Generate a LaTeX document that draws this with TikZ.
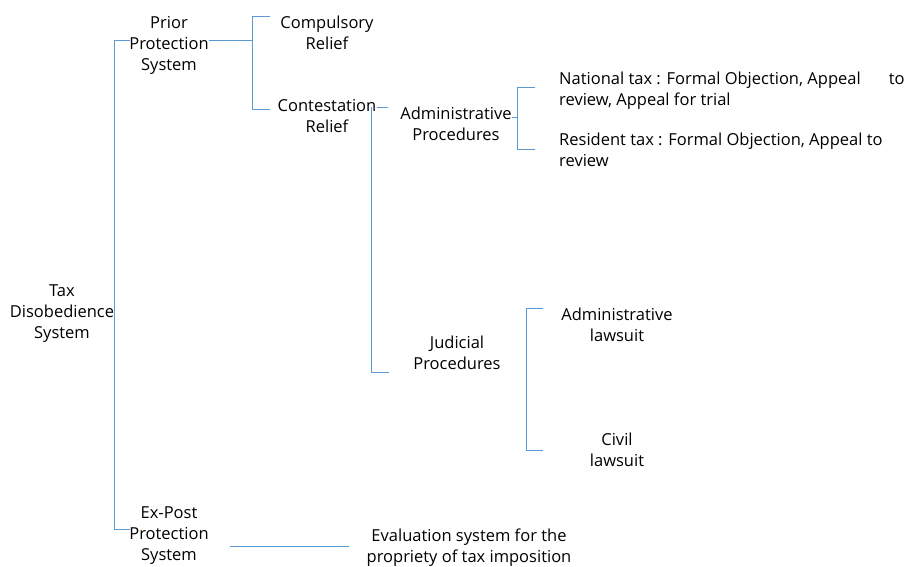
\documentclass[tikz,border=0pt]{standalone}
\usepackage{fontspec}
\setmainfont{Open Sans}
\definecolor{conncol}{RGB}{91,155,213}
\tikzset{
  conn/.style={draw=conncol, line width=0.8pt},
  lbl/.style={inner sep=0pt, align=center, font=\fontsize{16.5}{21}\selectfont},
  lbll/.style={inner sep=0pt, align=left, font=\fontsize{16.5}{21.5}\selectfont}
}
\begin{document}
\begin{tikzpicture}[x=1pt,y=-1pt]
\useasboundingbox (0,0) rectangle (905,567);
% nodes
\node[lbl] (root) at (62,314) {Tax\\Disobedience\\System};
\node[lbl] (prior) at (169,45) {Prior\\Protection\\System};
\node[lbl] (expost) at (169,536) {Ex-Post\\Protection\\System};
\node[lbl] (comp) at (327,33) {Compulsory\\Relief};
\node[lbl] (cont) at (327,116.5) {Contestation\\Relief};
\node[lbl] (admp) at (456,124) {Administrative\\Procedures};
\node[lbl] (judp) at (457,353) {Judicial\\Procedures};
\node[lbll, anchor=west] (nat) at (559,90.5) {National tax : Formal Objection, Appeal\hspace{1.7em}to\\review, Appeal for trial};
\node[lbll, anchor=west] (res) at (559,150) {Resident tax : Formal Objection, Appeal to\\review};
\node[lbl] (adml) at (617,325) {Administrative\\lawsuit};
\node[lbl] (civl) at (617,449.5) {Civil\\lawsuit};
\node[lbl] (eval) at (469,547.5) {Evaluation system for the\\propriety of tax imposition};
% coordinates
\coordinate (r1) at (130,40);
\coordinate (r2) at (114,40);
\coordinate (r3) at (114,529);
\coordinate (r4) at (130,529);
\coordinate (p1) at (209,40);
\coordinate (p2) at (252,40);
\coordinate (b1) at (270,16);
\coordinate (b2) at (252,16);
\coordinate (b3) at (252,109);
\coordinate (b4) at (270,109);
\coordinate (c1) at (377,107);
\coordinate (c2) at (388,107);
\coordinate (c3) at (371,107);
\coordinate (c4) at (371,372);
\coordinate (c5) at (389,372);
\coordinate (a1) at (512,117);
\coordinate (a2) at (517,117);
\coordinate (a3) at (535,87);
\coordinate (a4) at (517,87);
\coordinate (a5) at (517,149);
\coordinate (a6) at (535,149);
\coordinate (j1) at (543,308);
\coordinate (j2) at (526,308);
\coordinate (j3) at (526,450);
\coordinate (j4) at (543,450);
\coordinate (e1) at (230,546);
\coordinate (e2) at (349,546);
% connectors
\draw[conn] (r1) -- (r2) -- (r3) -- (r4);
\draw[conn] (p1) -- (p2);
\draw[conn] (b1) -- (b2) -- (b3) -- (b4);
\draw[conn] (c1) -- (c2);
\draw[conn] (c3) -- (c4) -- (c5);
\draw[conn] (a1) -- (a2);
\draw[conn] (a3) -- (a4) -- (a5) -- (a6);
\draw[conn] (j1) -- (j2) -- (j3) -- (j4);
\draw[conn] (e1) -- (e2);
\end{tikzpicture}
\end{document}
